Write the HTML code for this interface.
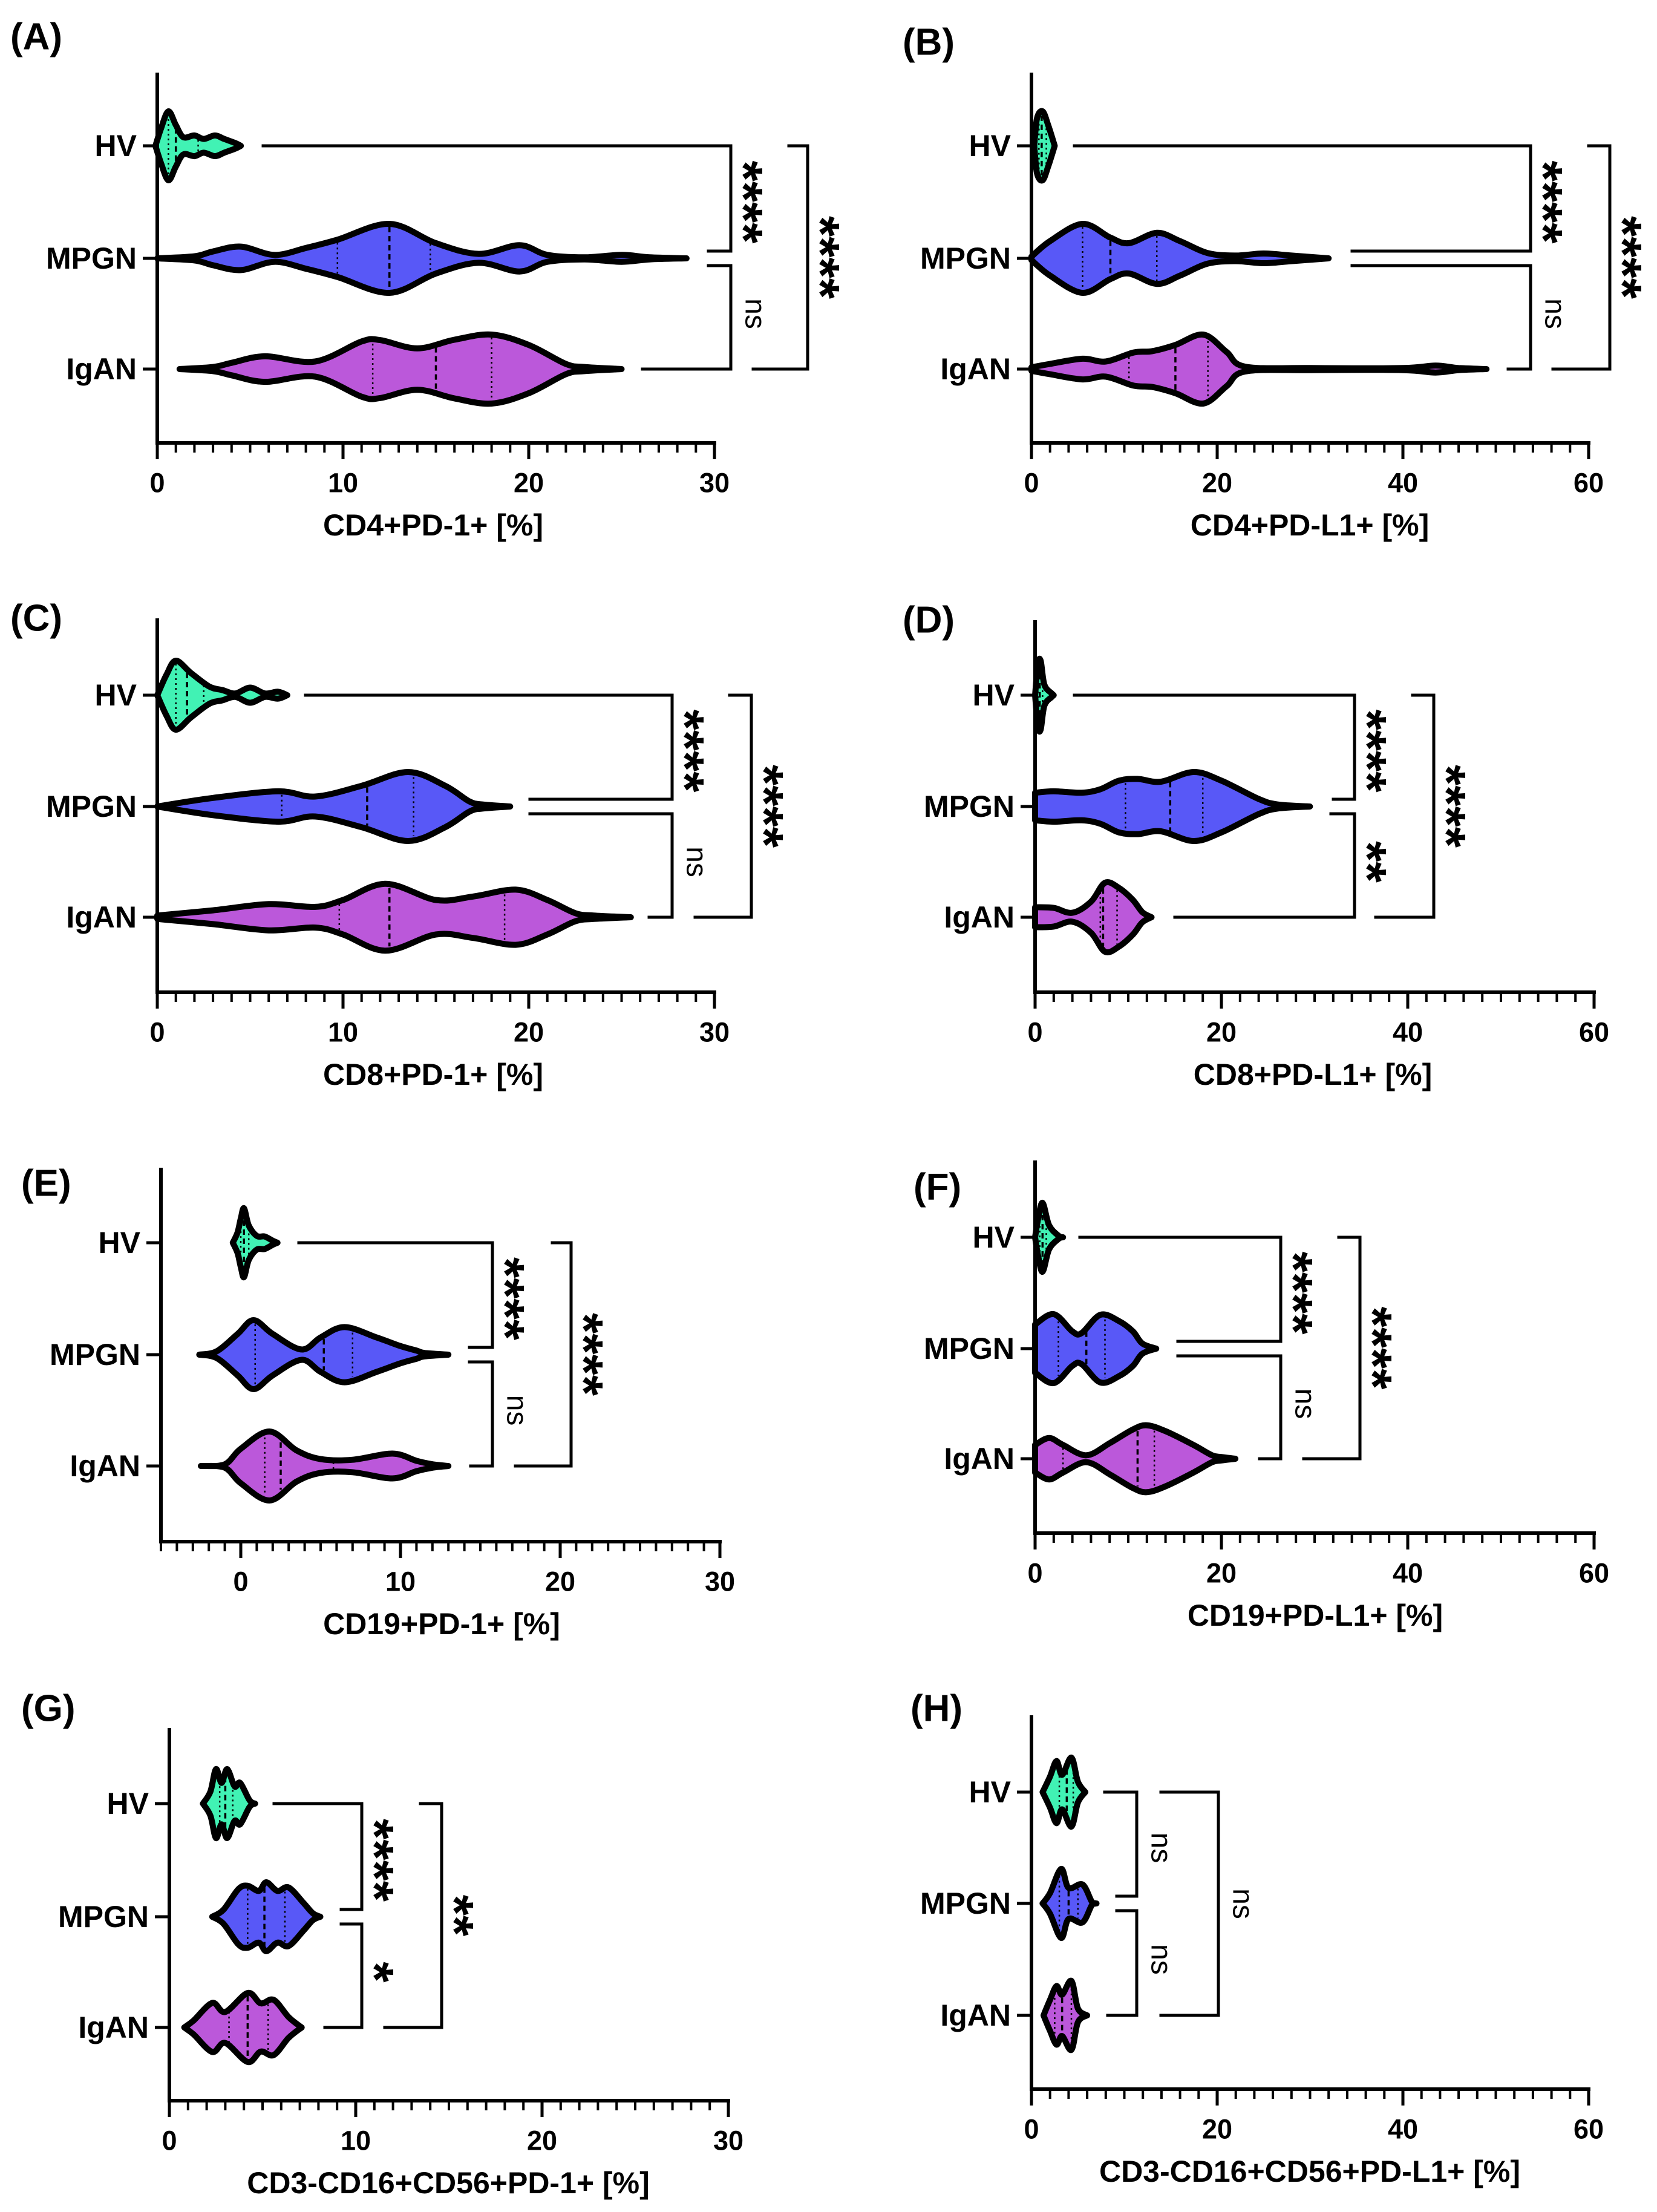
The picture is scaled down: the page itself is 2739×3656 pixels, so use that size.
<!DOCTYPE html>
<html><head><meta charset="utf-8">
<style>
html,body{margin:0;padding:0;background:#fff;}
svg{display:block;}
text{font-family:"Liberation Sans",sans-serif;fill:#000;}
</style></head>
<body>
<svg id="fig" xmlns="http://www.w3.org/2000/svg" width="2739" height="3656" viewBox="0 0 2739 3656"></svg>
<script>
// ---------- DATA (value, relative density) ----------
const groups = ['HV','MPGN','IgAN'];
const ticks30 = ['0','10','20','30'];
const ticks60 = ['0','20','40','60'];
const ticksE = ['0','10','20','30'];

const violinA_HV = [[-0.1,0],[0.2,0.5],[0.6,1.0],[1.0,0.6],[1.4,0.25],[2.0,0.3],[2.5,0.2],[3.1,0.3],[3.6,0.2],[4.2,0.08],[4.5,0]];
const violinA_MPGN = [[0,0],[2,0.06],[3,0.2],[4.5,0.34],[6.3,0.1],[8,0.3],[9.7,0.54],[12.5,1],[15,0.44],[17.3,0.13],[19.5,0.38],[21,0.1],[23,0.03],[25,0.1],[26.5,0.03],[28.5,0]];
const violinA_IgAN = [[1.2,0],[3,0.06],[4,0.18],[5.8,0.37],[8.5,0.22],[11,0.8],[12,0.84],[14,0.6],[16,0.85],[18,1.0],[20,0.7],[22,0.15],[23,0.06],[25,0]];
const quartA = [[0.6,1.0,2.2],[9.7,12.5,14.7],[11.6,15,18]];

const violinB_HV = [[0.3,0],[0.6,0.8],[1.2,1],[1.8,0.6],[2.5,0]];
const violinB_MPGN = [[0,0.05],[2,0.5],[5.5,1.0],[8.5,0.6],[10.5,0.44],[13.5,0.74],[16,0.5],[19,0.15],[22,0.08],[25,0.14],[28,0.08],[32,0]];
const violinB_IgAN = [[0,0.05],[2,0.15],[5.5,0.3],[8,0.22],[11,0.48],[13,0.52],[15.5,0.7],[18.5,1.0],[21,0.5],[23,0.07],[30,0.03],[40,0.03],[43.5,0.1],[46,0.03],[49,0]];
const quartB = [[0.8,1.1,1.6],[5.5,8.5,13.5],[10.5,15.5,19]];

const violinC_HV = [[0,0],[0.5,0.6],[1,1.0],[1.8,0.65],[2.8,0.25],[3.5,0.15],[4.2,0.05],[5,0.22],[5.8,0.05],[6.5,0.1],[7,0]];
const violinC_MPGN = [[0,0],[3,0.25],[6.5,0.44],[8.5,0.29],[11,0.6],[13.5,1],[15.5,0.6],[16.8,0.15],[17.5,0.06],[19,0]];
const violinC_IgAN = [[0,0.05],[3,0.2],[6,0.38],[8.5,0.3],[10,0.5],[12.3,0.97],[15,0.5],[17,0.6],[19.3,0.8],[21,0.5],[22.5,0.12],[23.5,0.05],[25.5,0]];
const quartC = [[1,1.6,2.5],[6.7,11.3,13.8],[9.8,12.5,18.7]];

const violinD_HV = [[0,0],[0.3,0.9],[0.6,1],[1,0.3],[1.8,0.05],[2,0]];
const violinD_MPGN = [[0,0.4],[2,0.44],[5,0.4],[7,0.5],[9,0.75],[11,0.8],[13.5,0.72],[17,1.0],[20,0.75],[24,0.22],[26,0.06],[29.5,0]];
const violinD_IgAN = [[0,0.29],[2,0.27],[4,0.13],[6,0.45],[7.5,1.0],[9,0.85],[10.5,0.5],[11.5,0.15],[12.5,0]];
const quartD = [[0.3,0.5,0.8],[9.7,14.5,18],[7.0,7.3,8.8]];

const violinE_HV = [[-0.5,0],[-0.2,0.3],[0,0.7],[0.2,1.0],[0.5,0.5],[1,0.2],[1.5,0.18],[2,0.06],[2.3,0]];
const violinE_MPGN = [[-2.6,0],[-1.5,0.1],[-0.2,0.6],[0.8,1.0],[2,0.6],[3.8,0.15],[5,0.5],[6.5,0.8],[8.5,0.5],[10,0.25],[11,0.12],[11.5,0.05],[13,0]];
const violinE_IgAN = [[-2.5,0],[-1,0.05],[0,0.5],[1.8,1.0],[3.5,0.45],[5,0.2],[7,0.18],[9.5,0.36],[11,0.15],[12,0.05],[13,0]];
const quartE = [[0,0.2,0.5],[0.9,5.2,7],[1.5,2.5,5.8]];

const violinF_HV = [[0,0],[0.3,0.5],[0.8,1],[1.5,0.35],[2.5,0.05],[3,0]];
const violinF_MPGN = [[0,0.7],[2,1.0],[4,0.5],[5,0.45],[7,0.98],[9,0.8],[10.5,0.5],[11.5,0.15],[13,0]];
const violinF_IgAN = [[0,0.4],[1.5,0.6],[3,0.4],[5.5,0.1],[8,0.45],[10.5,0.85],[12,0.97],[14,0.8],[17,0.4],[19,0.1],[20,0.05],[21.5,0]];
const quartF = [[0.5,0.8,1.2],[2.5,5.5,7.5],[3,11,12.8]];

const violinG_HV = [[1.8,0],[2.2,0.35],[2.5,1.0],[2.8,0.6],[3.1,1.0],[3.5,0.5],[3.8,0.6],[4.3,0.1],[4.6,0]];
const violinG_MPGN = [[2.3,0],[2.9,0.2],[3.7,0.8],[4.2,0.9],[4.8,0.75],[5.2,1.0],[5.8,0.75],[6.4,0.85],[7.2,0.4],[7.7,0.1],[8.1,0]];
const violinG_IgAN = [[0.8,0],[1.3,0.2],[2.3,0.71],[3,0.45],[4.2,1.0],[4.9,0.7],[5.6,0.8],[6.4,0.3],[7.1,0]];
const quartG = [[2.7,3.0,3.4],[4.2,5.1,6.2],[3.2,4.2,5.3]];

const violinH_HV = [[1.2,0],[2,0.45],[2.7,0.9],[3.3,0.5],[4.3,1.0],[5,0.3],[5.8,0]];
const violinH_MPGN = [[1.2,0],[2,0.3],[3.2,1.0],[4,0.45],[5.5,0.55],[6.5,0.05],[7,0]];
const violinH_IgAN = [[1.3,0],[2,0.45],[2.7,0.85],[3.3,0.6],[4.3,1.0],[5,0.2],[6,0]];
const quartH = [[3,3.8,4.5],[3,4,5],[2.5,3.3,4.3]];

const sigA = ['****','ns','****'];
const sigB = ['****','ns','****'];
const sigC = ['****','ns','****'];
const sigD = ['****','**','****'];
const sigE = ['****','ns','****'];
const sigF = ['****','ns','****'];
const sigG = ['****','*','**'];
const sigH = ['ns','ns','ns'];

const titles = ['CD4+PD-1+ [%]','CD4+PD-L1+ [%]','CD8+PD-1+ [%]','CD8+PD-L1+ [%]','CD19+PD-1+ [%]','CD19+PD-L1+ [%]','CD3-CD16+CD56+PD-1+ [%]','CD3-CD16+CD56+PD-L1+ [%]'];
const letters = ['(A)','(B)','(C)','(D)','(E)','(F)','(G)','(H)'];

// ---------- LAYOUT (pixels) ----------
const layout = [
 {min:0,max:30,minor:1,major:10,tl:ticks30,x0:260,x1:1181,axisY:732,top:120,ys:[241,427,610],lx:17,ly:61,tx:716,
  br:{x1:1208,x2:1335,hvL:435,mTopL:1171,mBotL:1171,igL:1062,hv3L:1304,ig3L:1245},v:[violinA_HV,violinA_MPGN,violinA_IgAN],q:quartA,s:sigA},
 {min:0,max:60,minor:2,major:20,tl:ticks60,x0:1705,x1:2626,axisY:732,top:120,ys:[241,427,610],lx:1492,ly:70,tx:2165,
  br:{x1:2530,x2:2661,hvL:1776,mTopL:2235,mBotL:2235,igL:2493,hv3L:2626,ig3L:2567},v:[violinB_HV,violinB_MPGN,violinB_IgAN],q:quartB,s:sigB},
 {min:0,max:30,minor:1,major:10,tl:ticks30,x0:260,x1:1181,axisY:1640,top:1022,ys:[1149,1333,1516],lx:17,ly:1022,tx:716,
  br:{x1:1111,x2:1242,hvL:505,mTopL:876,mBotL:876,igL:1073,hv3L:1206,ig3L:1149},v:[violinC_HV,violinC_MPGN,violinC_IgAN],q:quartC,s:sigC},
 {min:0,max:60,minor:2,major:20,tl:ticks60,x0:1711,x1:2635,axisY:1640,top:1025,ys:[1149,1333,1516],lx:1492,ly:1025,tx:2170,
  br:{x1:2239,x2:2370,hvL:1776,mTopL:2204,mBotL:2200,igL:1942,hv3L:2335,ig3L:2274},v:[violinD_HV,violinD_MPGN,violinD_IgAN],q:quartD,s:sigD},
 {min:-5,max:30,minor:1,major:10,tl:ticksE,x0:266,x1:1190,axisY:2548,top:1930,ys:[2054,2239,2423],lx:35,ly:1956,tx:730,
  br:{x1:814,x2:944,hvL:494,mTopL:776,mBotL:776,igL:778,hv3L:913,ig3L:852},v:[violinE_HV,violinE_MPGN,violinE_IgAN],q:quartE,s:sigE},
 {min:0,max:60,minor:2,major:20,tl:ticks60,x0:1711,x1:2635,axisY:2534,top:1918,ys:[2045,2229,2411],lx:1510,ly:1962,tx:2174,
  br:{x1:2117,x2:2248,hvL:1785,mTopL:1947,mBotL:1947,igL:2082,hv3L:2213,ig3L:2155},v:[violinF_HV,violinF_MPGN,violinF_IgAN],q:quartF,s:sigF},
 {min:0,max:30,minor:1,major:10,tl:ticks30,x0:280,x1:1204,axisY:3472,top:2856,ys:[2981,3168,3351],lx:35,ly:2824,tx:741,
  br:{x1:598,x2:730,hvL:453,mTopL:564,mBotL:564,igL:537,hv3L:695,ig3L:636},v:[violinG_HV,violinG_MPGN,violinG_IgAN],q:quartG,s:sigG},
 {min:0,max:60,minor:2,major:20,tl:ticks60,x0:1705,x1:2626,axisY:3453,top:2835,ys:[2962,3146,3331],lx:1505,ly:2824,tx:2165,
  br:{x1:1879,x2:2014,hvL:1826,mTopL:1846,mBotL:1846,igL:1831,hv3L:1919,ig3L:1919},v:[violinH_HV,violinH_MPGN,violinH_IgAN],q:quartH,s:sigH}
];
const colors = ['#41f2b4','#5858f7','#bb58da'];
const HALF = 57;
const NS = 'http://www.w3.org/2000/svg';
const svg = document.getElementById('fig');

function mk(tag, parent){ const e=document.createElementNS(NS,tag); parent.appendChild(e); return e; }
function line(p, x1,y1,x2,y2, w){ const l=mk('line',p); l.setAttribute('x1',x1);l.setAttribute('y1',y1);l.setAttribute('x2',x2);l.setAttribute('y2',y2);l.setAttribute('stroke','#000');l.setAttribute('stroke-width',w); return l; }
function txt(p, s, x, y, size, weight, anchor){ const t=mk('text',p); t.textContent=s; t.setAttribute('x',x); t.setAttribute('y',y); t.setAttribute('font-size',size); t.setAttribute('font-weight',weight); t.setAttribute('text-anchor',anchor); t.setAttribute('dominant-baseline','central'); return t; }
function crPath(pts){
  let d='M'+pts[0][0].toFixed(1)+','+pts[0][1].toFixed(1);
  for(let i=0;i<pts.length-1;i++){
    const p0=pts[Math.max(i-1,0)],p1=pts[i],p2=pts[i+1],p3=pts[Math.min(i+2,pts.length-1)];
    const c1=[p1[0]+(p2[0]-p0[0])/6,p1[1]+(p2[1]-p0[1])/6];
    const c2=[p2[0]-(p3[0]-p1[0])/6,p2[1]-(p3[1]-p1[1])/6];
    d+=' C'+c1[0].toFixed(1)+','+c1[1].toFixed(1)+' '+c2[0].toFixed(1)+','+c2[1].toFixed(1)+' '+p2[0].toFixed(1)+','+p2[1].toFixed(1);
  }
  return d;
}
function widthAt(v, val){
  for(let i=0;i<v.length-1;i++){ if(val>=v[i][0]&&val<=v[i+1][0]){ const t=(val-v[i][0])/(v[i+1][0]-v[i][0]); return v[i][1]+t*(v[i+1][1]-v[i][1]); } }
  return 0;
}

layout.forEach((L, pi) => {
  const g = mk('g', svg);
  
  
  const X = v => L.x0 + (v - L.min) / (L.max - L.min) * (L.x1 - L.x0);

  const lab = txt(g, letters[pi], L.lx, L.ly, 62, 'bold', 'start');
  
  

  L.v.forEach((v, gi) => {
    const cy = L.ys[gi];
    const up = v.map(p => [X(p[0]), cy - p[1]*HALF]);
    const dn = v.slice().reverse().map(p => [X(p[0]), cy + p[1]*HALF]);
    let d = crPath(up) + ' L' + crPath(dn).slice(1) + ' Z';
    const path = mk('path', g);
    path.setAttribute('d', d);
    path.setAttribute('fill', colors[gi]);
    path.setAttribute('stroke', '#000');
    path.setAttribute('stroke-width', 10);
    path.setAttribute('stroke-linejoin', 'round');
    
    
    L.q[gi].forEach((qv, qi) => {
      const w = widthAt(v, qv) * HALF - 5;
      if (w <= 2) return;
      const ql = line(g, X(qv), cy - w, X(qv), cy + w, qi === 1 ? 3.5 : 2.5);
      ql.setAttribute('stroke-dasharray', qi === 1 ? '9,6' : '3,5');
      
      
    });
  });

  const ya = line(g, L.x0, L.top, L.x0, L.axisY + 3, 6);
  
  
  const xa = line(g, L.x0 - 3, L.axisY, L.x1 + 3, L.axisY, 6);
  
  
  const nT = Math.round((L.max - L.min) / L.minor);
  for (let i = 0; i <= nT; i++) {
    const v = L.min + i * L.minor;
    const major = Math.abs(v / L.major - Math.round(v / L.major)) < 1e-9;
    const t = line(g, X(v), L.axisY, X(v), L.axisY + (major ? 27 : 16), major ? 5 : 4);
    
    
  }
  L.tl.forEach(s => {
    const t = txt(g, s, X(parseFloat(s)), L.axisY + 66, 45, 'bold', 'middle');
    
    
  });
  const ti = txt(g, titles[pi], L.tx, L.axisY + 136, 50, 'bold', 'middle');
  
  

  groups.forEach((gname, gi) => {
    const tk = line(g, L.x0 - 24, L.ys[gi], L.x0, L.ys[gi], 5);
    
    
    const t = txt(g, gname, L.x0 - 34, L.ys[gi], 50, 'bold', 'end');
    
    
  });

  const B = L.br, [yH, yM, yI] = L.ys, gap = 12;
  const segs = [
    [B.hvL, yH, B.x1, yH], [B.x1, yH, B.x1, yM - gap], [B.mTopL, yM - gap, B.x1, yM - gap],
    [B.mBotL, yM + gap, B.x1, yM + gap], [B.x1, yM + gap, B.x1, yI], [B.igL, yI, B.x1, yI],
    [B.hv3L, yH, B.x2, yH], [B.x2, yH, B.x2, yI], [B.ig3L, yI, B.x2, yI]
  ];
  segs.forEach(s => {
    const l = line(g, s[0], s[1], s[2], s[3], 5);
    l.setAttribute('stroke-linecap', 'square');
    
    
  });
  const pos = [[B.x1 + 40, (yH + yM) / 2], [B.x1 + 40, (yM + yI) / 2], [B.x2 + 40, (yH + yI) / 2]];
  L.s.forEach((s, si) => {
    const star = s !== 'ns';
    const cx = pos[si][0] - (star ? 18 : 0);
    const t = txt(g, s, 0, 0, star ? 88 : 48, star ? 'bold' : 'normal', 'middle');
    t.setAttribute('transform', 'translate(' + cx + ',' + pos[si][1] + ') rotate(90)');
    
    
  });
});
</script>
</body></html>
